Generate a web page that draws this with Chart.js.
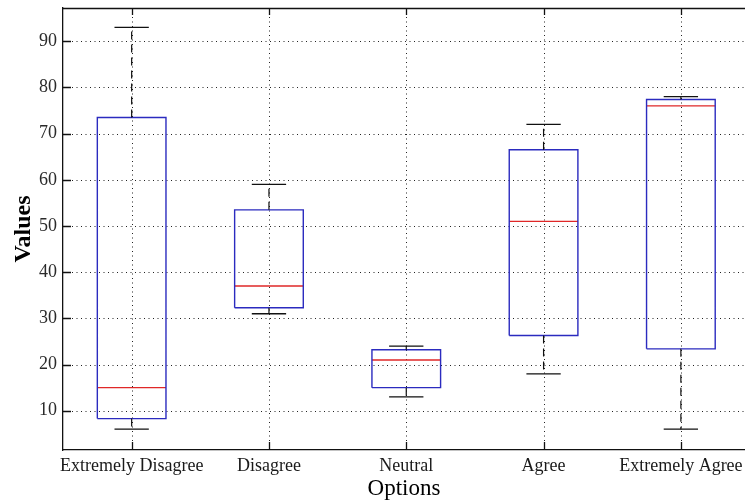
<!DOCTYPE html>
<html>
<head>
<meta charset="utf-8">
<script src="https://cdn.jsdelivr.net/npm/chart.js@4"></script>
<style>
  html, body { margin: 0; padding: 0; background: #fff; }
  #wrap { width: 745px; height: 504px; }
</style>
</head>
<body>
<div id="wrap"><canvas id="c" width="745" height="504"></canvas></div>
<script>
// ---- data ----
const categories = ['Extremely Disagree', 'Disagree', 'Neutral', 'Agree', 'Extremely Agree'];
const lowerWhisker = [6, 31, 13, 18, 6];
const q1 = [8.3, 32.3, 15, 26.3, 23.4];
const median = [15, 37, 21, 51, 76];
const q3 = [73.5, 53.5, 23.2, 66.5, 77.4];
const upperWhisker = [93, 59, 24, 72, 78];
const yTicks = [10, 20, 30, 40, 50, 60, 70, 80, 90];

// ---- geometry in data units ----
const boxHalf = 0.25;
const capHalf = 0.125;
const xPos = categories.map((c, i) => i + 1);

const boxPts = [], medPts = [], whiskPts = [], capPts = [];
xPos.forEach((x, i) => {
  boxPts.push({x: x - boxHalf, y: q1[i]}, {x: x + boxHalf, y: q1[i]}, {x: x + boxHalf, y: q3[i]},
              {x: x - boxHalf, y: q3[i]}, {x: x - boxHalf, y: q1[i]}, {x: x, y: null});
  medPts.push({x: x - boxHalf, y: median[i]}, {x: x + boxHalf, y: median[i]}, {x: x, y: null});
  whiskPts.push({x: x, y: q3[i]}, {x: x, y: upperWhisker[i]}, {x: x, y: null},
                {x: x, y: q1[i]}, {x: x, y: lowerWhisker[i]}, {x: x, y: null});
  capPts.push({x: x - capHalf, y: upperWhisker[i]}, {x: x + capHalf, y: upperWhisker[i]}, {x: x, y: null},
              {x: x - capHalf, y: lowerWhisker[i]}, {x: x + capHalf, y: lowerWhisker[i]}, {x: x, y: null});
});

const serif = '"Liberation Serif", "Times New Roman", serif';

const gridPlugin = {
  id: 'dotgrid',
  beforeDatasetsDraw(chart) {
    const {ctx, chartArea: a, scales: {x, y}} = chart;
    ctx.save();
    ctx.strokeStyle = '#222';
    ctx.lineWidth = 1;
    ctx.setLineDash([1, 3.5]);
    ctx.beginPath();
    yTicks.forEach(v => {
      const py = Math.round(y.getPixelForValue(v)) + 0.5;
      ctx.moveTo(a.left, py); ctx.lineTo(a.right, py);
    });
    xPos.forEach(v => {
      const px = Math.round(x.getPixelForValue(v)) + 0.5;
      ctx.moveTo(px, a.bottom); ctx.lineTo(px, a.top);
    });
    ctx.stroke();
    ctx.restore();
  }
};

const framePlugin = {
  id: 'frame',
  afterDatasetsDraw(chart) {
    const {ctx, chartArea: a, scales: {x, y}} = chart;
    ctx.save();
    ctx.strokeStyle = '#111';
    ctx.lineWidth = 1.3;
    ctx.beginPath();
    ctx.moveTo(a.left, a.top + 0.5); ctx.lineTo(a.right, a.top + 0.5);
    yTicks.forEach(v => {
      const py = Math.round(y.getPixelForValue(v)) + 0.5;
      ctx.moveTo(a.left, py); ctx.lineTo(a.left + 8, py);
    });
    xPos.forEach(v => {
      const px = Math.round(x.getPixelForValue(v)) + 0.5;
      ctx.moveTo(px, a.bottom); ctx.lineTo(px, a.bottom - 8);
      ctx.moveTo(px, a.top); ctx.lineTo(px, a.top + 7);
    });
    ctx.stroke();
    ctx.restore();
  }
};

new Chart(document.getElementById('c'), {
  type: 'scatter',
  data: {
    datasets: [
      {data: whiskPts, showLine: true, borderColor: '#111', borderWidth: 1.2, borderDash: [8, 5], pointRadius: 0, spanGaps: false},
      {data: capPts, showLine: true, borderColor: '#111', borderWidth: 1.3, pointRadius: 0, spanGaps: false},
      {data: boxPts, showLine: true, borderColor: '#2b2bbf', borderWidth: 1.4, pointRadius: 0, spanGaps: false},
      {data: medPts, showLine: true, borderColor: '#e02828', borderWidth: 1.4, pointRadius: 0, spanGaps: false}
    ]
  },
  options: {
    responsive: false,
    animation: false,
    layout: {padding: {top: 8, right: 0, left: 0, bottom: 0}},
    plugins: {legend: {display: false}, tooltip: {enabled: false}},
    elements: {line: {tension: 0}},
    scales: {
      x: {
        type: 'linear', min: 0.5, max: 5.467,
        afterBuildTicks: s => { s.ticks = xPos.map(v => ({value: v})); },
        afterFit: s => { s.height = 54; s.paddingLeft = 0; s.paddingRight = 0; },
        ticks: {
          callback: (v) => categories[Math.round(v) - 1] || '',
          color: '#1a1a1a', padding: 5, autoSkip: false, maxRotation: 0,
          font: {family: serif, size: 18}
        },
        grid: {display: false, drawTicks: false},
        border: {display: true, color: '#111', width: 1.3},
        title: {display: true, text: 'Options', color: '#000', padding: {top: 0, bottom: 1},
                font: {family: serif, size: 23}}
      },
      y: {
        type: 'linear', min: 1.5, max: 97.2,
        afterBuildTicks: s => { s.ticks = yTicks.map(v => ({value: v})); },
        afterFit: s => { s.width = 63; s.paddingTop = 0; s.paddingBottom = 0; },
        ticks: {color: '#2a2a2a', padding: 6, font: {family: serif, size: 18}},
        grid: {display: false, drawTicks: false},
        border: {display: true, color: '#111', width: 1.3},
        title: {display: true, text: 'Values', color: '#000', padding: {top: 9, bottom: 0},
                font: {family: serif, size: 24, weight: 'bold'}}
      }
    }
  },
  plugins: [gridPlugin, framePlugin]
});
</script>
</body>
</html>
